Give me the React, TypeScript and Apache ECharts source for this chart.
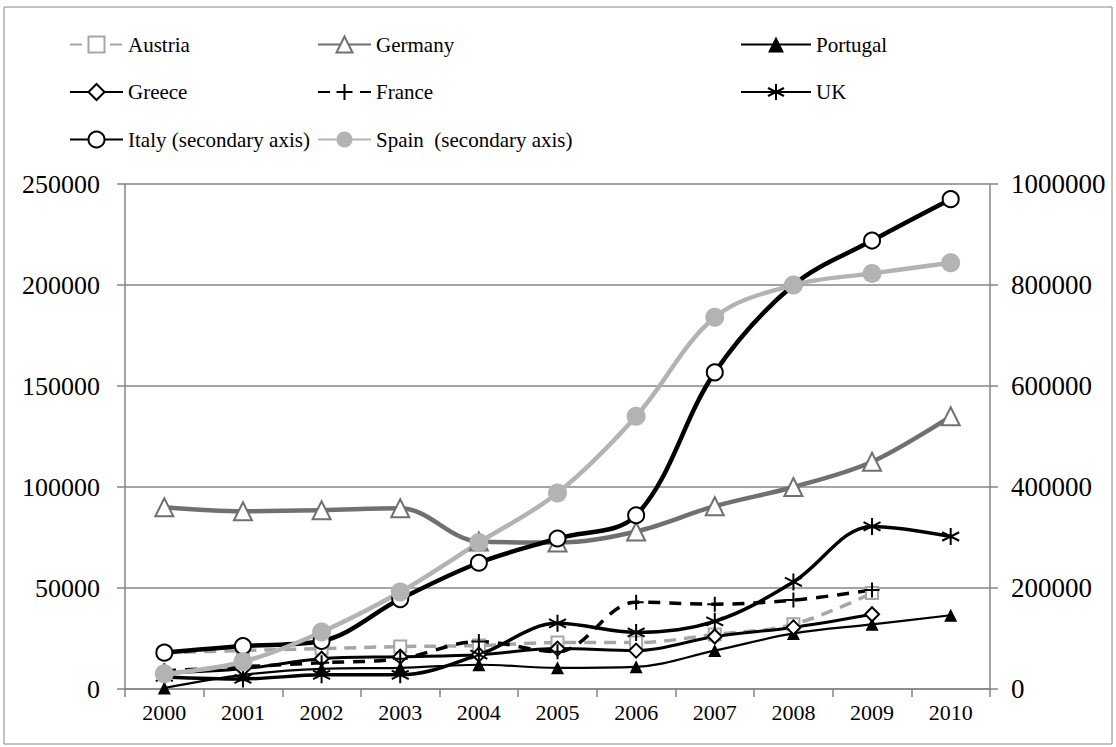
import React, { useEffect, useRef } from "react";
import * as echarts from "echarts";

const years = ["2000", "2001", "2002", "2003", "2004", "2005", "2006", "2007", "2008", "2009", "2010"];
const leftTicks = { min: 0, max: 250000, interval: 50000 };
const rightTicks = { min: 0, max: 1000000, interval: 200000 };

const austria = [18000, 19000, 20000, 21000, 21500, 23000, 23000, 27000, 32000, 47500, null];
const germany = [90000, 88000, 88500, 89500, 73000, 72500, 78000, 90500, 100000, 112500, 135000];
const portugal = [500, 7000, 10000, 10500, 12000, 10500, 11000, 19000, 27500, 32000, 36500];
const greece = [8000, 10000, 15000, 16000, 17000, 20000, 19000, 26000, 30500, 37000, null];
const france = [9000, 11000, 13000, 15000, 23500, 18500, 43000, 42000, 44000, 49000, null];
const uk = [6000, 5000, 7000, 7000, 17000, 32500, 28000, 33500, 53000, 80500, 75500];
const italy = [72000, 85000, 95000, 178000, 250000, 298000, 344000, 627000, 800000, 888000, 970000];
const spain = [30000, 54000, 113000, 192000, 290000, 388000, 540000, 736000, 800000, 823000, 844000];

const FONT = "'Liberation Serif', 'Times New Roman', serif";
const AXIS_GRAY = "#868686";
const SMOOTH = 0.35;

const PLUS = "path://M0,5L10,5M5,0L5,10";
const STAR = "path://M5,0L5,10M0.7,2.5L9.3,7.5M0.7,7.5L9.3,2.5";

export default function App() {
  const ref = useRef<HTMLDivElement>(null);
  useEffect(() => {
    if (!ref.current) return;
    const chart = echarts.init(ref.current, null, { renderer: "svg" });
    const legendCommon = {
      orient: "vertical",
      top: 34,
      padding: 0,
      itemWidth: 53,
      itemHeight: 20,
      itemGap: 26.5,
      textStyle: { fontFamily: FONT, fontSize: 21, color: "#000", lineHeight: 20 },
      selectedMode: false,
    };
    chart.setOption({
      animation: false,
      backgroundColor: "#fff",
      graphic: [
        {
          type: "rect",
          shape: { x: 4, y: 7, width: 1108, height: 737 },
          style: { fill: "none", stroke: AXIS_GRAY, lineWidth: 1 },
          silent: true,
        },
      ],
      legend: [
        { ...legendCommon, left: 69, data: ["Austria", "Greece", "Italy (secondary axis)"] },
        { ...legendCommon, left: 317, data: ["Germany", "France", "Spain  (secondary axis)"] },
        { ...legendCommon, left: 740, itemWidth: 70, data: ["Portugal", "UK"] },
      ],
      grid: { left: 125, right: 126, top: 184, bottom: 58 },
      xAxis: {
        type: "category",
        data: years,
        boundaryGap: true,
        axisLine: { lineStyle: { color: AXIS_GRAY, width: 1.5 } },
        axisTick: { show: true, length: 8, lineStyle: { color: AXIS_GRAY, width: 1.5 } },
        axisLabel: { fontFamily: FONT, fontSize: 22, color: "#000", margin: 12 },
      },
      yAxis: [
        {
          type: "value",
          ...leftTicks,
          position: "left",
          axisLine: { show: true, lineStyle: { color: AXIS_GRAY, width: 1.5 } },
          axisTick: { show: true, length: 8, lineStyle: { color: AXIS_GRAY, width: 1.5 } },
          splitLine: { show: true, lineStyle: { color: AXIS_GRAY, width: 1.5 } },
          axisLabel: { fontFamily: FONT, fontSize: 26, color: "#000", margin: 25, formatter: (v: number) => String(v) },
        },
        {
          type: "value",
          ...rightTicks,
          position: "right",
          axisLine: { show: true, lineStyle: { color: AXIS_GRAY, width: 1.5 } },
          axisTick: { show: true, length: 8, lineStyle: { color: AXIS_GRAY, width: 1.5 } },
          splitLine: { show: false },
          axisLabel: { fontFamily: FONT, fontSize: 27, color: "#000", margin: 21, formatter: (v: number) => String(v) },
        },
      ],
      series: [
        {
          name: "Austria",
          type: "line",
          data: austria,
          smooth: SMOOTH,
          symbol: "rect",
          symbolSize: 12,
          lineStyle: { color: "#a6a6a6", width: 3.5, type: [12, 8] },
          itemStyle: { color: "#fff", borderColor: "#a6a6a6", borderWidth: 2 },
        },
        {
          name: "Germany",
          type: "line",
          data: germany,
          smooth: SMOOTH,
          symbol: "triangle",
          symbolSize: 18,
          lineStyle: { color: "#707070", width: 4.5 },
          itemStyle: { color: "#fff", borderColor: "#707070", borderWidth: 2 },
        },
        {
          name: "Portugal",
          type: "line",
          data: portugal,
          smooth: SMOOTH,
          symbol: "triangle",
          symbolSize: 13,
          lineStyle: { color: "#000", width: 2.2 },
          itemStyle: { color: "#000", borderColor: "#000", borderWidth: 0 },
        },
        {
          name: "Greece",
          type: "line",
          data: greece,
          smooth: SMOOTH,
          symbol: "diamond",
          symbolSize: 14,
          lineStyle: { color: "#000", width: 3 },
          itemStyle: { color: "#fff", borderColor: "#000", borderWidth: 2 },
        },
        {
          name: "France",
          type: "line",
          data: france,
          smooth: SMOOTH,
          symbol: PLUS,
          symbolSize: 15,
          lineStyle: { color: "#000", width: 3.5, type: [12, 9] },
          itemStyle: { color: "#000", borderColor: "#000", borderWidth: 2 },
        },
        {
          name: "UK",
          type: "line",
          data: uk,
          smooth: SMOOTH,
          symbol: STAR,
          symbolSize: 17,
          lineStyle: { color: "#000", width: 3.5 },
          itemStyle: { color: "#000", borderColor: "#000", borderWidth: 2 },
        },
        {
          name: "Italy (secondary axis)",
          type: "line",
          yAxisIndex: 1,
          data: italy,
          smooth: SMOOTH,
          symbol: "circle",
          symbolSize: 16,
          lineStyle: { color: "#000", width: 4.5 },
          itemStyle: { color: "#fff", borderColor: "#000", borderWidth: 2 },
        },
        {
          name: "Spain  (secondary axis)",
          type: "line",
          yAxisIndex: 1,
          data: spain,
          smooth: SMOOTH,
          symbol: "circle",
          symbolSize: 19,
          lineStyle: { color: "#b3b3b3", width: 4.5 },
          itemStyle: { color: "#b3b3b3", borderColor: "#b3b3b3", borderWidth: 0 },
        },
      ],
    });
    return () => chart.dispose();
  }, []);
  return (
    <div
      ref={ref}
      style={{ position: "fixed", left: 0, top: 0, width: 1116, height: 747, background: "#fff" }}
    />
  );
}
